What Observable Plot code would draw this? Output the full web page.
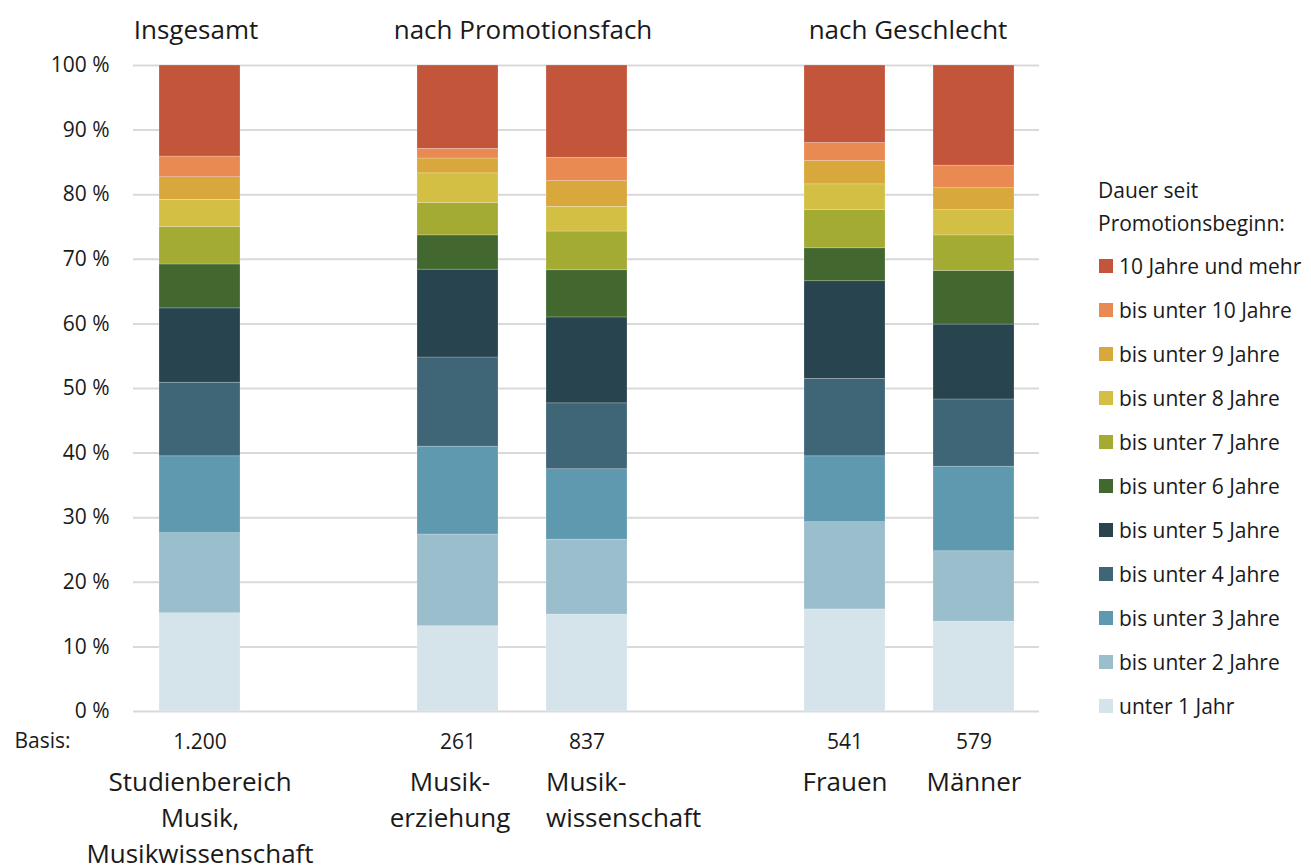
<!DOCTYPE html>
<html><head><meta charset="utf-8">
<script src="https://cdn.jsdelivr.net/npm/d3@7"></script>
<script src="https://cdn.jsdelivr.net/npm/@observablehq/plot@0.6"></script>
<style>
body{margin:0;background:#fff;font-family:"Open Sans",sans-serif;color:#1a1a1a;}
#wrap{position:relative;width:1311px;height:866px;overflow:hidden;}
#wrap svg{position:absolute;left:0;top:0;overflow:visible;}
.lg-title{position:absolute;left:1098px;top:174px;font-size:21px;line-height:33px;white-space:nowrap;}
.lg-item{position:absolute;left:1099px;height:44px;display:flex;align-items:center;font-size:21px;white-space:nowrap;}
.lg-sw{width:14px;height:14px;margin-right:6px;flex:none;}
</style></head><body><div id="wrap"></div>
<script>
// Slots along the x axis (two empty gaps between groups)
const slots = ["Insgesamt", "gap1", "Musikerziehung", "Musikwissenschaft", "gap2", "Frauen", "Männer"];
const categories = ["Insgesamt", "Musikerziehung", "Musikwissenschaft", "Frauen", "Männer"];
const categoryLabels = ["Studienbereich\nMusik,\nMusikwissenschaft", "Musik-\nerziehung", "Musik-\nwissenschaft", "Frauen", "Männer"];
const basis = ["1.200", "261", "837", "541", "579"];
const groupTitles = ["Insgesamt", "nach Promotionsfach", "nach Geschlecht"];

// Durations, bottom of stack first
const durations = ["unter 1 Jahr", "bis unter 2 Jahre", "bis unter 3 Jahre", "bis unter 4 Jahre", "bis unter 5 Jahre",
  "bis unter 6 Jahre", "bis unter 7 Jahre", "bis unter 8 Jahre", "bis unter 9 Jahre", "bis unter 10 Jahre", "10 Jahre und mehr"];
const colors = ["#d5e4eb", "#9abecc", "#5e99b0", "#3e6677", "#28444f", "#42682f", "#a3ab33", "#d3bf44", "#d9a83c", "#e88a52", "#c3553b"];

// Shares in percent, same order as durations
const insgesamt         = [15.2, 12.4, 11.9, 11.4, 11.5, 6.8, 5.8, 4.2, 3.5, 3.2, 14.1];
const musikerziehung    = [13.2, 14.2, 13.6, 13.8, 13.6, 5.3, 5.0, 4.6, 2.3, 1.5, 12.9];
const musikwissenschaft = [15.0, 11.6, 10.9, 10.2, 13.3, 7.3, 6.0, 3.8, 4.0, 3.6, 14.3];
const frauen            = [15.8, 13.5, 10.2, 12.0, 15.1, 5.1, 5.9, 4.0, 3.6, 2.8, 12.0];
const maenner           = [13.9, 10.9, 13.1, 10.4, 11.6, 8.3, 5.5, 3.9, 3.4, 3.5, 15.5];
const series = [insgesamt, musikerziehung, musikwissenschaft, frauen, maenner];

const yTicks = [0, 10, 20, 30, 40, 50, 60, 70, 80, 90, 100];

const data = [];
categories.forEach((c, i) => durations.forEach((d, j) => data.push({cat: c, dur: d, value: series[i][j]})));
const labels = categories.map((c, i) => ({cat: c, label: categoryLabels[i], basis: basis[i]}));

const FONT = '"Open Sans", sans-serif';
const ink = "#1a1a1a";

const chart = Plot.plot({
  width: 1311,
  height: 866,
  marginLeft: 133,
  marginRight: 272,
  marginTop: 65,
  marginBottom: 155,
  style: {fontFamily: FONT, color: ink, background: "transparent", overflow: "visible"},
  x: {domain: slots, paddingInner: 0.374, paddingOuter: 0.188, axis: null},
  y: {domain: [0, 100]},
  color: {domain: durations, range: colors},
  marks: [
    Plot.gridY(yTicks, {stroke: "#d9d9d9", strokeOpacity: 1, strokeWidth: 2}),
    Plot.axisY({ticks: yTicks, tickFormat: d => `${d} %`, tickSize: 0, tickPadding: 24, fontSize: 21, label: null, fill: ink}),
    Plot.barY(data, {x: "cat", y: "value", fill: "dur", order: durations, stroke: "#ffffff", strokeWidth: 0.6, strokeOpacity: 0.35}),
    // Basis numbers
    Plot.text(labels, {x: "cat", text: "basis", frameAnchor: "bottom", lineAnchor: "middle", dy: 31, fontSize: 21, fill: ink}),
    Plot.text(["Basis:"], {frameAnchor: "bottom-left", text: d => d, lineAnchor: "middle", dx: -119, dy: 30, textAnchor: "start", fontSize: 21, fill: ink}),
    // Category labels
    Plot.text(labels.filter(d => d.cat !== "Musikerziehung" && d.cat !== "Musikwissenschaft"),
      {x: "cat", text: "label", frameAnchor: "bottom", dy: 54, lineAnchor: "top", lineHeight: 1.38, fontSize: 26, fill: ink}),
    Plot.text(labels.filter(d => d.cat === "Musikerziehung"),
      {x: "cat", text: "label", frameAnchor: "bottom", dx: -8, dy: 54, lineAnchor: "top", lineHeight: 1.38, fontSize: 26, fill: ink}),
    Plot.text(labels.filter(d => d.cat === "Musikwissenschaft"),
      {x: "cat", text: "label", frameAnchor: "bottom", dx: -41, dy: 54, lineAnchor: "top", lineHeight: 1.38, fontSize: 26, textAnchor: "start", fill: ink}),
    // Group titles
    Plot.text([{cat: "Insgesamt", t: groupTitles[0]}], {x: "cat", text: "t", frameAnchor: "top", lineAnchor: "middle", dx: -4, dy: -35, fontSize: 26, fill: ink}),
    Plot.text([{cat: "Musikerziehung", t: groupTitles[1]}], {x: "cat", text: "t", frameAnchor: "top", lineAnchor: "middle", dx: 65, dy: -35, fontSize: 26, fill: ink}),
    Plot.text([{cat: "Frauen", t: groupTitles[2]}], {x: "cat", text: "t", frameAnchor: "top", lineAnchor: "middle", dx: 63, dy: -35, fontSize: 26, fill: ink})
  ]
});

const wrap = document.getElementById("wrap");
wrap.appendChild(chart);

// Legend (top item = last duration)
const title = document.createElement("div");
title.className = "lg-title";
title.innerHTML = "Dauer seit<br>Promotionsbeginn:";
wrap.appendChild(title);
const scale = chart.scale("color");
durations.slice().reverse().forEach((d, i) => {
  const item = document.createElement("div");
  item.className = "lg-item";
  item.style.top = (243.7 + 44 * i) + "px";
  const sw = document.createElement("span");
  sw.className = "lg-sw";
  sw.style.background = scale.apply(d);
  const tx = document.createElement("span");
  tx.textContent = d;
  item.appendChild(sw);
  item.appendChild(tx);
  wrap.appendChild(item);
});
</script>
</body></html>
